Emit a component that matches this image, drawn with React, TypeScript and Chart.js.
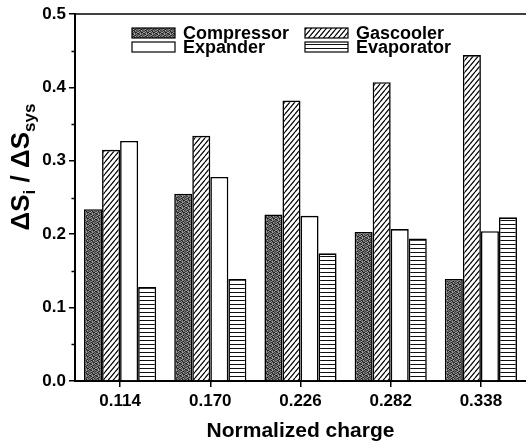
import React, { useEffect, useRef } from 'react';
import { Chart, registerables } from 'chart.js';

Chart.register(...registerables);

const categories = ['0.114', '0.170', '0.226', '0.282', '0.338'];
const seriesNames = ['Compressor', 'Gascooler', 'Expander', 'Evaporator'];
const compressor = [0.234, 0.255, 0.227, 0.203, 0.139];
const gascooler = [0.315, 0.334, 0.382, 0.407, 0.444];
const expander = [0.327, 0.278, 0.225, 0.207, 0.204];
const evaporator = [0.128, 0.139, 0.174, 0.194, 0.223];
const yMin = 0;
const yMax = 0.5;
const yStep = 0.1;
const yMinorTicks = [0.05, 0.15, 0.25, 0.35, 0.45];
const xTitle = 'Normalized charge';

const FONT = '"Liberation Sans", Arial, sans-serif';

function stipplePattern(): CanvasPattern | string {
  const c = document.createElement('canvas');
  c.width = 6;
  c.height = 6;
  const g = c.getContext('2d');
  if (!g) return '#555';
  const map = ['201312', '130221', '312003', '023130', '103212', '231021'];
  const cols = ['#1e1e1e', '#444444', '#707070', '#a0a0a0'];
  for (let y = 0; y < 6; y++) {
    for (let x = 0; x < 6; x++) {
      g.fillStyle = cols[+map[y][x]];
      g.fillRect(x, y, 1, 1);
    }
  }
  return g.createPattern(c, 'repeat') || '#555';
}

function diagonalPattern(): CanvasPattern | string {
  const w = 5, h = 6;
  const c = document.createElement('canvas');
  c.width = w;
  c.height = h;
  const g = c.getContext('2d');
  if (!g) return '#fff';
  g.fillStyle = '#fff';
  g.fillRect(0, 0, w, h);
  g.strokeStyle = '#000';
  g.lineWidth = 1.2;
  g.beginPath();
  for (const o of [-w, 0, w]) {
    g.moveTo(o, h);
    g.lineTo(o + w, 0);
  }
  g.stroke();
  return g.createPattern(c, 'repeat') || '#fff';
}

function horizontalPattern(): CanvasPattern | string {
  const c = document.createElement('canvas');
  c.width = 4;
  c.height = 4;
  const g = c.getContext('2d');
  if (!g) return '#fff';
  g.fillStyle = '#fff';
  g.fillRect(0, 0, 4, 4);
  g.fillStyle = '#111';
  g.fillRect(0, 0, 4, 1);
  return g.createPattern(c, 'repeat') || '#fff';
}

const decorPlugin = {
  id: 'decor',
  afterDraw(chart: any) {
    const { ctx, chartArea: a, scales } = chart;
    const y = scales.y;
    ctx.save();
    // top frame line
    ctx.strokeStyle = '#000';
    ctx.lineWidth = 1.5;
    ctx.beginPath();
    ctx.moveTo(a.left, a.top);
    ctx.lineTo(a.right, a.top);
    ctx.stroke();
    // minor ticks
    ctx.lineWidth = 1.5;
    ctx.beginPath();
    for (const v of yMinorTicks) {
      const py = Math.round(y.getPixelForValue(v)) + 0.5;
      ctx.moveTo(a.left - 3.5, py);
      ctx.lineTo(a.left, py);
    }
    ctx.stroke();

    // legend
    const ds = chart.data.datasets;
    const cols = [132, 305];
    const rows = [33, 47];
    ctx.font = `bold 18px ${FONT}`;
    ctx.textBaseline = 'middle';
    ctx.textAlign = 'left';
    ds.forEach((d: any, i: number) => {
      const bx = cols[i % 2];
      const by = rows[Math.floor(i / 2)];
      ctx.fillStyle = d.backgroundColor;
      ctx.fillRect(bx, by - 5, 43, 10);
      ctx.strokeStyle = '#000';
      ctx.lineWidth = 1.2;
      ctx.strokeRect(bx, by - 5, 43, 10);
      ctx.fillStyle = '#000';
      ctx.fillText(d.label, bx + 51, by + 1);
    });

    // x title
    ctx.font = `bold 21px ${FONT}`;
    ctx.textAlign = 'center';
    ctx.textBaseline = 'middle';
    ctx.fillText(xTitle, (a.left + a.right) / 2, 431);

    // y title with subscripts
    const big = `bold 26px ${FONT}`;
    const small = `bold 17px ${FONT}`;
    const parts: [string, string, number][] = [
      ['\u0394S', big, 0],
      ['i', small, 6],
      [' / ', big, 0],
      ['\u0394S', big, 0],
      ['sys', small, 6],
    ];
    let total = 0;
    const widths = parts.map(([t, f]) => {
      ctx.font = f;
      const w = ctx.measureText(t).width;
      total += w;
      return w;
    });
    ctx.translate(29, 167);
    ctx.rotate(-Math.PI / 2);
    ctx.textAlign = 'left';
    ctx.textBaseline = 'alphabetic';
    let px = -total / 2;
    parts.forEach(([t, f, dy], i) => {
      ctx.font = f;
      ctx.fillText(t, px, dy);
      px += widths[i];
    });
    ctx.restore();
  },
};

export default function App() {
  const ref = useRef<HTMLCanvasElement | null>(null);

  useEffect(() => {
    document.body.style.margin = '0';
    const canvas = ref.current;
    if (!canvas) return;
    const fills = [stipplePattern(), diagonalPattern(), '#ffffff', horizontalPattern()];
    const values = [compressor, gascooler, expander, evaporator];
    const chart = new Chart(canvas, {
      type: 'bar',
      data: {
        labels: categories,
        datasets: seriesNames.map((name, i) => ({
          label: name,
          data: values[i],
          backgroundColor: fills[i] as any,
          borderColor: '#000',
          borderWidth: 1.6,
          categoryPercentage: 0.8,
          barPercentage: 1,
        })),
      },
      options: {
        responsive: false,
        animation: false,
        devicePixelRatio: 1,
        layout: { padding: { top: 14, right: 0, left: 0, bottom: 0 } },
        plugins: {
          legend: { display: false },
          tooltip: { enabled: false },
        },
        scales: {
          x: {
            type: 'category',
            offset: true,
            grid: {
              display: true,
              drawOnChartArea: false,
              drawTicks: true,
              tickLength: 6,
              offset: false,
              color: '#000',
              lineWidth: 1.5,
            },
            border: { display: true, color: '#000', width: 2 },
            ticks: {
              color: '#000',
              font: { family: FONT, size: 17, weight: 'bold' },
              padding: 4,
              maxRotation: 0,
            },
            afterFit: (s: any) => {
              s.height = 65;
            },
          },
          y: {
            min: yMin,
            max: yMax,
            grid: {
              display: true,
              drawOnChartArea: false,
              drawTicks: true,
              tickLength: 6,
              color: '#000',
              lineWidth: 1.5,
            },
            border: { display: true, color: '#000', width: 2 },
            ticks: {
              stepSize: yStep,
              color: '#000',
              font: { family: FONT, size: 17, weight: 'bold' },
              padding: 3,
              callback: (v: any) => Number(v).toFixed(1),
            },
            afterFit: (s: any) => {
              s.width = 75;
            },
          },
        },
      },
      plugins: [decorPlugin],
    });
    return () => chart.destroy();
  }, []);

  return (
    <div style={{ width: 526, height: 446 }}>
      <canvas ref={ref} width={526} height={446} style={{ display: 'block' }} />
    </div>
  );
}
